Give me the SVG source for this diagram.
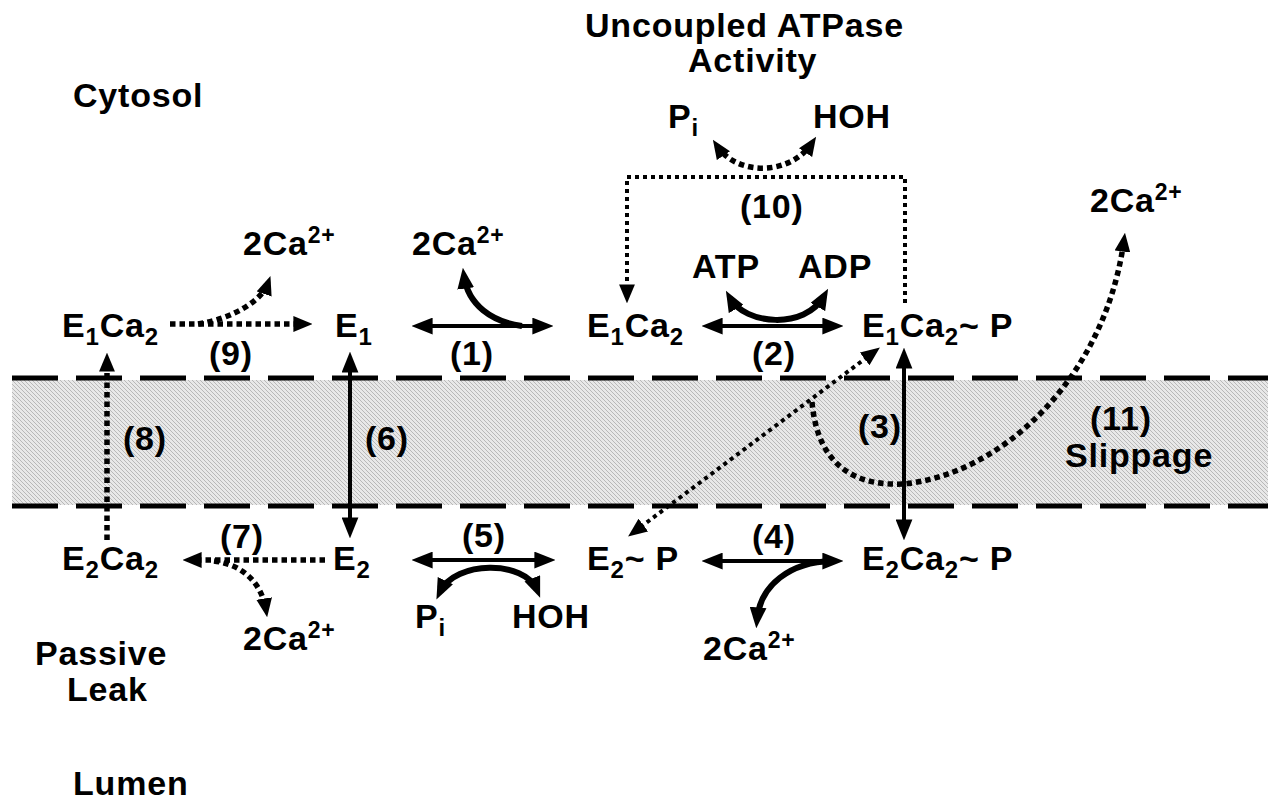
<svg xmlns="http://www.w3.org/2000/svg" width="1268" height="801" viewBox="0 0 1268 801">
<style>
text{font-family:"Liberation Sans",Arial,sans-serif;font-weight:bold;font-size:34px;fill:#000;letter-spacing:0.8px}
.sub{font-size:24px}
.sup{font-size:23px}
.solid{fill:none;stroke:#000;stroke-width:4}
.curve{fill:none;stroke:#000;stroke-width:6}
.dot{fill:none;stroke:#000;stroke-width:5.5;stroke-dasharray:5.5 4}
.dotthin{fill:none;stroke:#000;stroke-width:4;stroke-dasharray:4 4}
.mem{fill:none;stroke:#000;stroke-width:5;stroke-dasharray:46 18}
</style>
<defs>
<pattern id="hatch" patternUnits="userSpaceOnUse" width="4" height="4">
<rect width="4" height="4" fill="#e8e8e8"/>
<path d="M-1,-1 L5,5 M-1,3 L1,5 M3,-1 L5,1" stroke="#b8b8b8" stroke-width="1"/>
</pattern>
<marker id="ah" viewBox="0 0 20 16" refX="12" refY="8" markerWidth="21" markerHeight="17" markerUnits="userSpaceOnUse" orient="auto-start-reverse">
<path d="M0,0 L20,8 L0,16 z" fill="#000"/>
</marker>
<marker id="ahs" viewBox="0 0 18 15" refX="11" refY="7.5" markerWidth="19" markerHeight="16" markerUnits="userSpaceOnUse" orient="auto-start-reverse">
<path d="M0,0 L18,7.5 L0,15 z" fill="#000"/>
</marker>
</defs>
<rect width="1268" height="801" fill="#fff"/>
<g id="membrane">
<rect x="12" y="380" width="1256" height="125" fill="url(#hatch)"/>
<line class="mem" x1="12" y1="378" x2="1268" y2="378"/>
<line class="mem" x1="12" y1="506" x2="1268" y2="506"/>
</g>
<g id="connectors">
<path class="solid" d="M420,326 H545" marker-start="url(#ah)" marker-end="url(#ah)"/>
<path class="curve" d="M522,326 C492,322 468,305 464,276" marker-end="url(#ah)"/>
<path class="solid" d="M710,326 H835" marker-start="url(#ah)" marker-end="url(#ah)"/>
<path class="curve" d="M730,298 C745,325 805,330 824,296" marker-start="url(#ah)" marker-end="url(#ah)"/>
<path class="dot" d="M170,324 H305" marker-end="url(#ahs)"/>
<path class="dot" d="M198,324 C235,318 262,300 268,283" marker-end="url(#ahs)"/>
<path class="dot" d="M107,540 V360" marker-end="url(#ahs)"/>
<path class="solid" d="M350,360 V530" marker-start="url(#ah)" marker-end="url(#ah)"/>
<path class="solid" d="M904,356 V532" marker-start="url(#ah)" marker-end="url(#ah)"/>
<path class="dotthin" d="M905,303 V177 H627 V296" marker-end="url(#ahs)"/>
<path class="dot" d="M717,146 C737,176 790,176 812,143" marker-start="url(#ahs)" marker-end="url(#ahs)"/>
<path class="dotthin" d="M634,532 L874,352" marker-start="url(#ahs)" marker-end="url(#ahs)"/>
<path class="dot" d="M812,402 C818,470 860,486 903,484 C1000,475 1105,380 1124,240" marker-end="url(#ahs)"/>
<path class="dot" d="M325,560 H190" marker-end="url(#ahs)"/>
<path class="dot" d="M214,561 C245,565 262,585 266,610" marker-end="url(#ahs)"/>
<path class="solid" d="M420,560 H547" marker-start="url(#ah)" marker-end="url(#ah)"/>
<path class="curve" d="M440,592 C455,560 525,560 537,590" marker-start="url(#ah)" marker-end="url(#ah)"/>
<path class="solid" d="M710,561 H835" marker-start="url(#ah)" marker-end="url(#ah)"/>
<path class="curve" d="M832,561 C790,562 760,585 757,620" marker-end="url(#ah)"/>
</g>
<g id="labels">
<text x="73" y="107">Cytosol</text>
<text x="585" y="37">Uncoupled ATPase</text>
<text x="688" y="72">Activity</text>
<text x="73" y="795">Lumen</text>
<text x="35" y="665">Passive</text>
<text x="67" y="701">Leak</text>
<text x="740" y="218">(10)</text>
<text x="209" y="365">(9)</text>
<text x="450" y="365">(1)</text>
<text x="752" y="365">(2)</text>
<text x="123" y="450">(8)</text>
<text x="365" y="450">(6)</text>
<text x="858" y="438">(3)</text>
<text x="1090" y="430">(11)</text>
<text x="1065" y="467">Slippage</text>
<text x="220" y="548">(7)</text>
<text x="462" y="547">(5)</text>
<text x="752" y="548">(4)</text>
</g>
<g id="n-E1Ca2-left"><text x="62" y="337">E<tspan class="sub" dy="8">1</tspan><tspan dy="-8">Ca</tspan><tspan class="sub" dy="8">2</tspan></text></g>
<g id="n-E1"><text x="335" y="337">E<tspan class="sub" dy="8">1</tspan></text></g>
<g id="n-E1Ca2"><text x="587" y="337">E<tspan class="sub" dy="8">1</tspan><tspan dy="-8">Ca</tspan><tspan class="sub" dy="8">2</tspan></text></g>
<g id="n-E1Ca2P"><text x="862" y="337">E<tspan class="sub" dy="8">1</tspan><tspan dy="-8">Ca</tspan><tspan class="sub" dy="8">2</tspan><tspan dy="-8">~ P</tspan></text></g>
<g id="n-E2Ca2-left"><text x="62" y="570">E<tspan class="sub" dy="8">2</tspan><tspan dy="-8">Ca</tspan><tspan class="sub" dy="8">2</tspan></text></g>
<g id="n-E2"><text x="333" y="570">E<tspan class="sub" dy="8">2</tspan></text></g>
<g id="n-E2P"><text x="587" y="570">E<tspan class="sub" dy="8">2</tspan><tspan dy="-8">~ P</tspan></text></g>
<g id="n-E2Ca2P"><text x="862" y="570">E<tspan class="sub" dy="8">2</tspan><tspan dy="-8">Ca</tspan><tspan class="sub" dy="8">2</tspan><tspan dy="-8">~ P</tspan></text></g>
<g id="n-Pi-top"><text x="668" y="128">P<tspan class="sub" dy="8">i</tspan></text></g>
<g id="n-HOH-top"><text x="813" y="128">HOH</text></g>
<g id="n-ATP"><text x="692" y="278">ATP</text></g>
<g id="n-ADP"><text x="798" y="278">ADP</text></g>
<g id="n-Ca-topleft"><text x="243" y="255">2Ca<tspan class="sup" dy="-12">2+</tspan></text></g>
<g id="n-Ca-topmid"><text x="412" y="255">2Ca<tspan class="sup" dy="-12">2+</tspan></text></g>
<g id="n-Ca-topright"><text x="1090" y="212">2Ca<tspan class="sup" dy="-12">2+</tspan></text></g>
<g id="n-Pi-bottom"><text x="415" y="628">P<tspan class="sub" dy="8">i</tspan></text></g>
<g id="n-HOH-bottom"><text x="512" y="628">HOH</text></g>
<g id="n-Ca-bottomleft"><text x="243" y="650">2Ca<tspan class="sup" dy="-12">2+</tspan></text></g>
<g id="n-Ca-bottommid"><text x="703" y="660">2Ca<tspan class="sup" dy="-12">2+</tspan></text></g>
</svg>
